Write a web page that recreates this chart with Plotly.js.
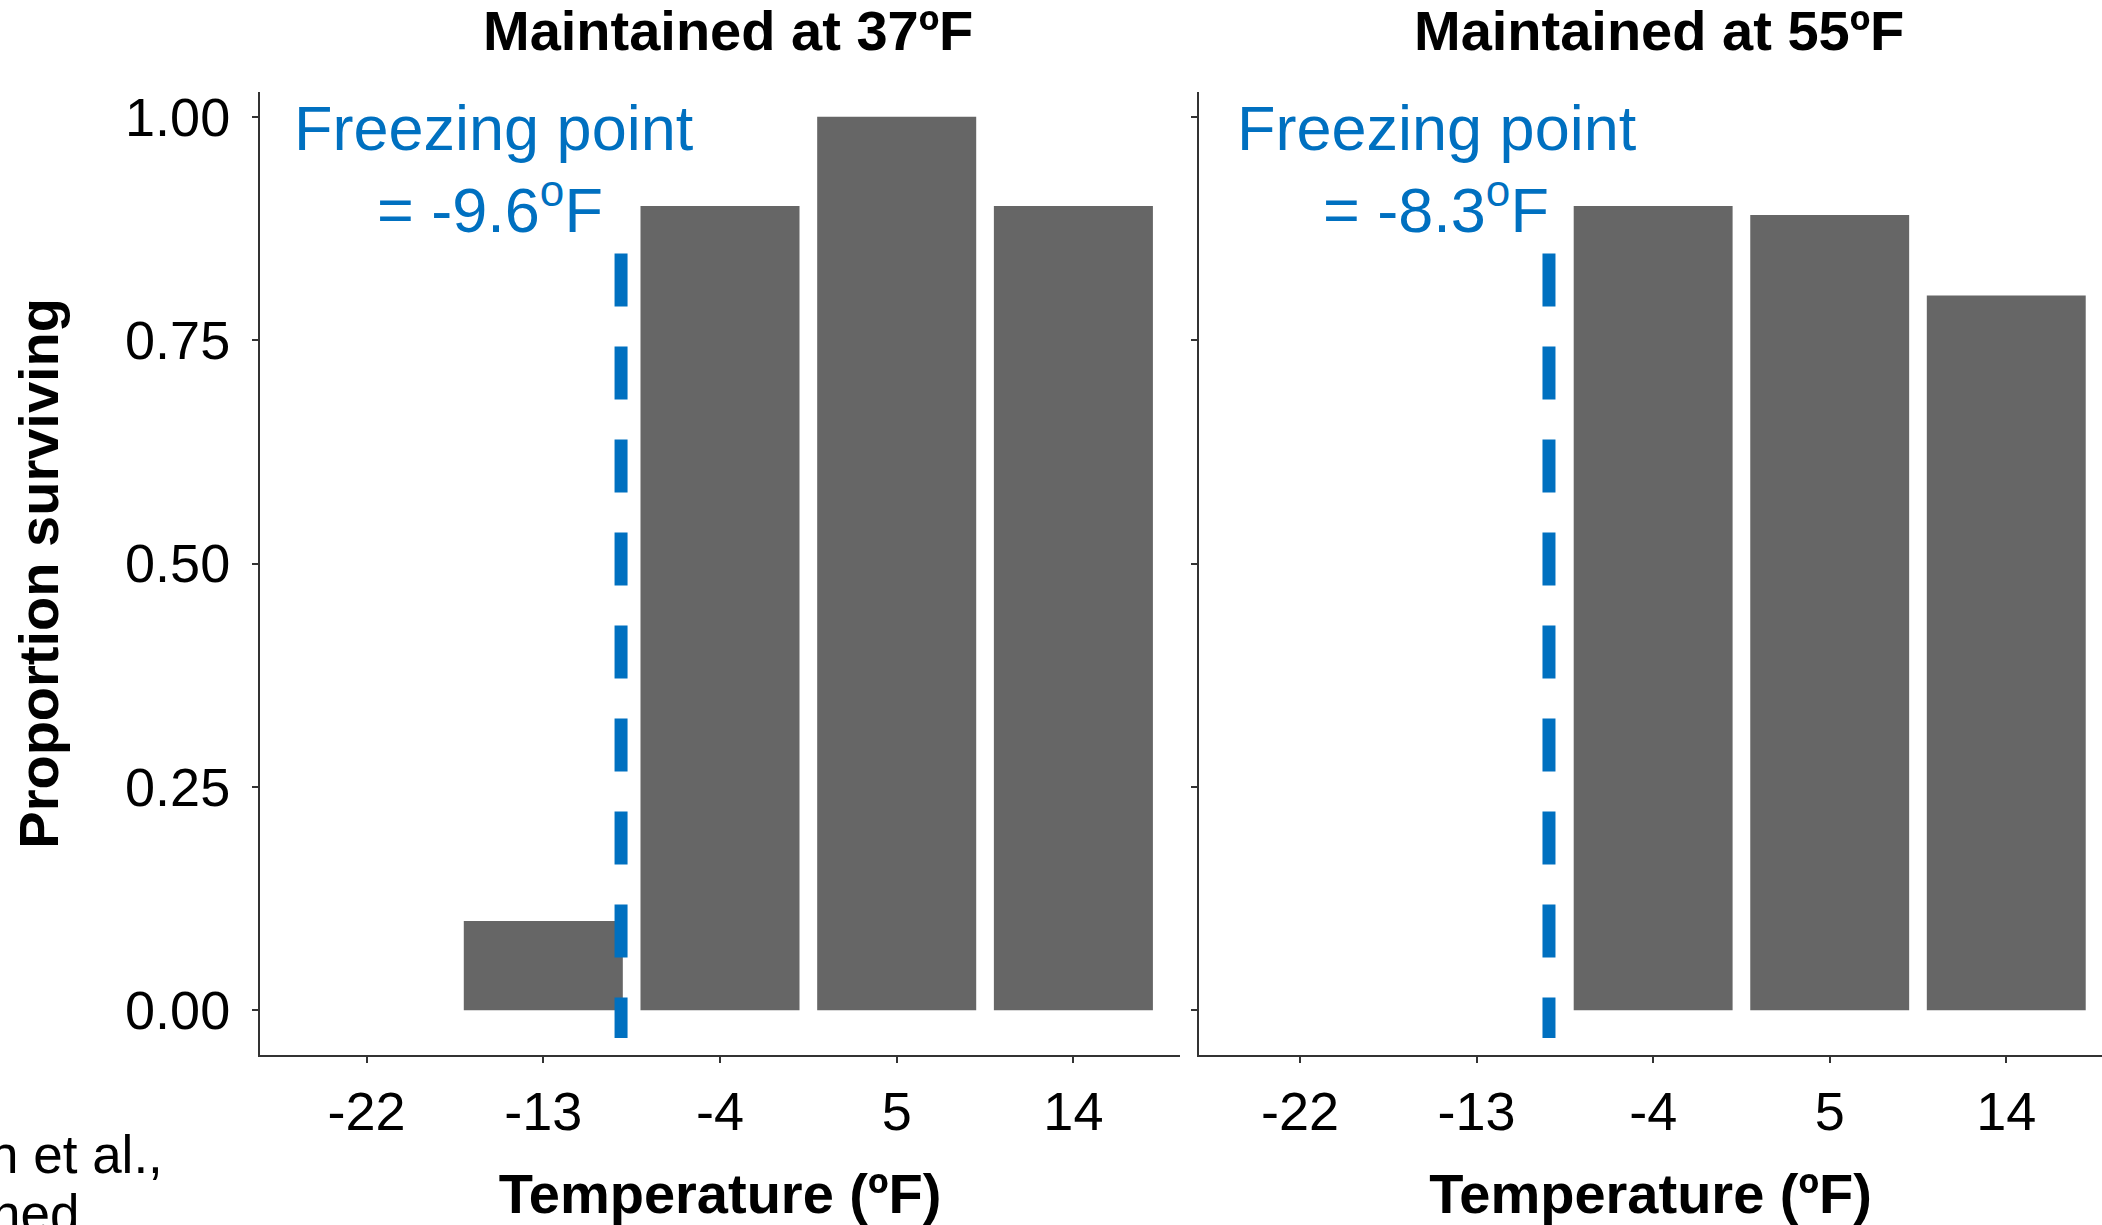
<!DOCTYPE html>
<html>
<head>
<meta charset="utf-8">
<script src="https://cdn.plot.ly/plotly-3.0.1.min.js"></script>
<style>html,body{margin:0;padding:0;background:#fff;}#chart{width:2102px;height:1225px;}</style>
</head>
<body>
<div id="chart"></div>
<script>
// ---- data ----
const temps = [-22, -13, -4, 5, 14];
const tickText = ['-22', '-13', '-4', '5', '14'];
const surv37 = [0, 0.1, 0.9, 1.0, 0.9];
const surv55 = [0, 0, 0.9, 0.89, 0.8];
const yTickVals = [0, 0.25, 0.5, 0.75, 1];
const yTickText = ['0.00', '0.25', '0.50', '0.75', '1.00'];
const panelTitles = ['Maintained at 37ºF', 'Maintained at 55ºF'];
const freezeLabel = ['-9.6', '-8.3'];
const freezeLineX = [-9.04, -9.31];
const freezeLineY = [0.847, -0.031];
const xTitle = 'Temperature (ºF)';
const yTitle = 'Proportion surviving';
const captionLines = ['n et al.,', 'ned'];

// ---- layout helpers (pixel -> paper) ----
const W = 2102, H = 1225;
const px = v => v / W;
const py = v => 1 - v / H;
const FONT = 'Liberation Sans, Arial, Helvetica, sans-serif';
const BLUE = '#0070C0';
const AX = '#333333';

const barStyle = {color: '#666666', line: {width: 0}};
const traces = [
  {type: 'bar', x: temps, y: surv37, width: 8.1, marker: barStyle, xaxis: 'x', yaxis: 'y', hoverinfo: 'x+y'},
  {type: 'bar', x: temps, y: surv55, width: 8.1, marker: barStyle, xaxis: 'x2', yaxis: 'y2', hoverinfo: 'x+y'},
  {type: 'scatter', mode: 'lines', x: [freezeLineX[0], freezeLineX[0]], y: freezeLineY,
   line: {color: BLUE, width: 13, dash: '53px,40px'}, xaxis: 'x', yaxis: 'y', hoverinfo: 'skip'},
  {type: 'scatter', mode: 'lines', x: [freezeLineX[1], freezeLineX[1]], y: freezeLineY,
   line: {color: BLUE, width: 13, dash: '53px,40px'}, xaxis: 'x2', yaxis: 'y2', hoverinfo: 'skip'}
];

const xCommon = {
  tickmode: 'array', tickvals: temps, ticktext: tickText,
  ticks: 'outside', ticklen: 6, tickwidth: 2, tickcolor: AX,
  showline: true, linecolor: AX, linewidth: 2,
  showgrid: false, zeroline: false, fixedrange: true,
  tickfont: {family: FONT, size: 54, color: '#000'},
  ticklabelstandoff: 2,
  title: {text: xTitle, standoff: 34, font: {family: FONT, size: 56, color: '#000', weight: 'bold'}}
};
const yCommon = {
  range: [-0.05, 1.028],
  domain: [py(1055), py(91.7)],
  tickmode: 'array', tickvals: yTickVals, ticktext: yTickText,
  ticks: 'outside', ticklen: 6, tickwidth: 2, tickcolor: AX,
  showline: true, linecolor: AX, linewidth: 2,
  showgrid: false, zeroline: false, fixedrange: true,
  tickfont: {family: FONT, size: 54, color: '#000'}
};

const layout = {
  width: W, height: H,
  margin: {l: 0, r: 0, t: 0, b: 0, pad: 0},
  paper_bgcolor: '#ffffff', plot_bgcolor: '#ffffff',
  showlegend: false,
  font: {family: FONT, color: '#000'},
  xaxis: Object.assign({}, xCommon, {domain: [px(260), px(1180)], range: [-27.43, 19.43], anchor: 'y'}),
  xaxis2: Object.assign({}, xCommon, {domain: [px(1199), 1], range: [-27.15, 18.88], anchor: 'y2'}),
  yaxis: Object.assign({}, yCommon, {anchor: 'x', ticklabelstandoff: 11,
    title: {text: yTitle, standoff: 48, font: {family: FONT, size: 56, color: '#000', weight: 'bold'}}}),
  yaxis2: Object.assign({}, yCommon, {anchor: 'x2', showticklabels: false}),
  annotations: [
    {text: panelTitles[0], xref: 'paper', yref: 'paper', x: px(728), y: py(31), xanchor: 'center', yanchor: 'middle',
     showarrow: false, borderpad: 0, font: {family: FONT, size: 56, color: '#000', weight: 'bold'}},
    {text: panelTitles[1], xref: 'paper', yref: 'paper', x: px(1659), y: py(31), xanchor: 'center', yanchor: 'middle',
     showarrow: false, borderpad: 0, font: {family: FONT, size: 56, color: '#000', weight: 'bold'}},
    {text: 'Freezing point', xref: 'paper', yref: 'paper', x: px(293), y: py(128), xanchor: 'left', yanchor: 'middle',
     showarrow: false, borderpad: 0, font: {family: FONT, size: 63, color: BLUE}},
    {text: '= ' + freezeLabel[0] + '<sup>o</sup>F', xref: 'paper', yref: 'paper', x: px(604), y: py(205), xanchor: 'right', yanchor: 'middle',
     showarrow: false, borderpad: 0, font: {family: FONT, size: 63, color: BLUE}},
    {text: 'Freezing point', xref: 'paper', yref: 'paper', x: px(1236), y: py(128), xanchor: 'left', yanchor: 'middle',
     showarrow: false, borderpad: 0, font: {family: FONT, size: 63, color: BLUE}},
    {text: '= ' + freezeLabel[1] + '<sup>o</sup>F', xref: 'paper', yref: 'paper', x: px(1550), y: py(205), xanchor: 'right', yanchor: 'middle',
     showarrow: false, borderpad: 0, font: {family: FONT, size: 63, color: BLUE}},
    {text: captionLines[0], xref: 'paper', yref: 'paper', x: px(164), y: py(1154), xanchor: 'right', yanchor: 'middle',
     showarrow: false, borderpad: 0, font: {family: FONT, size: 53, color: '#000'}},
    {text: captionLines[1], xref: 'paper', yref: 'paper', x: px(80), y: py(1213), xanchor: 'right', yanchor: 'middle',
     showarrow: false, borderpad: 0, font: {family: FONT, size: 53, color: '#000'}}
  ]
};

Plotly.newPlot('chart', traces, layout, {staticPlot: true, displayModeBar: false});
</script>
</body>
</html>
